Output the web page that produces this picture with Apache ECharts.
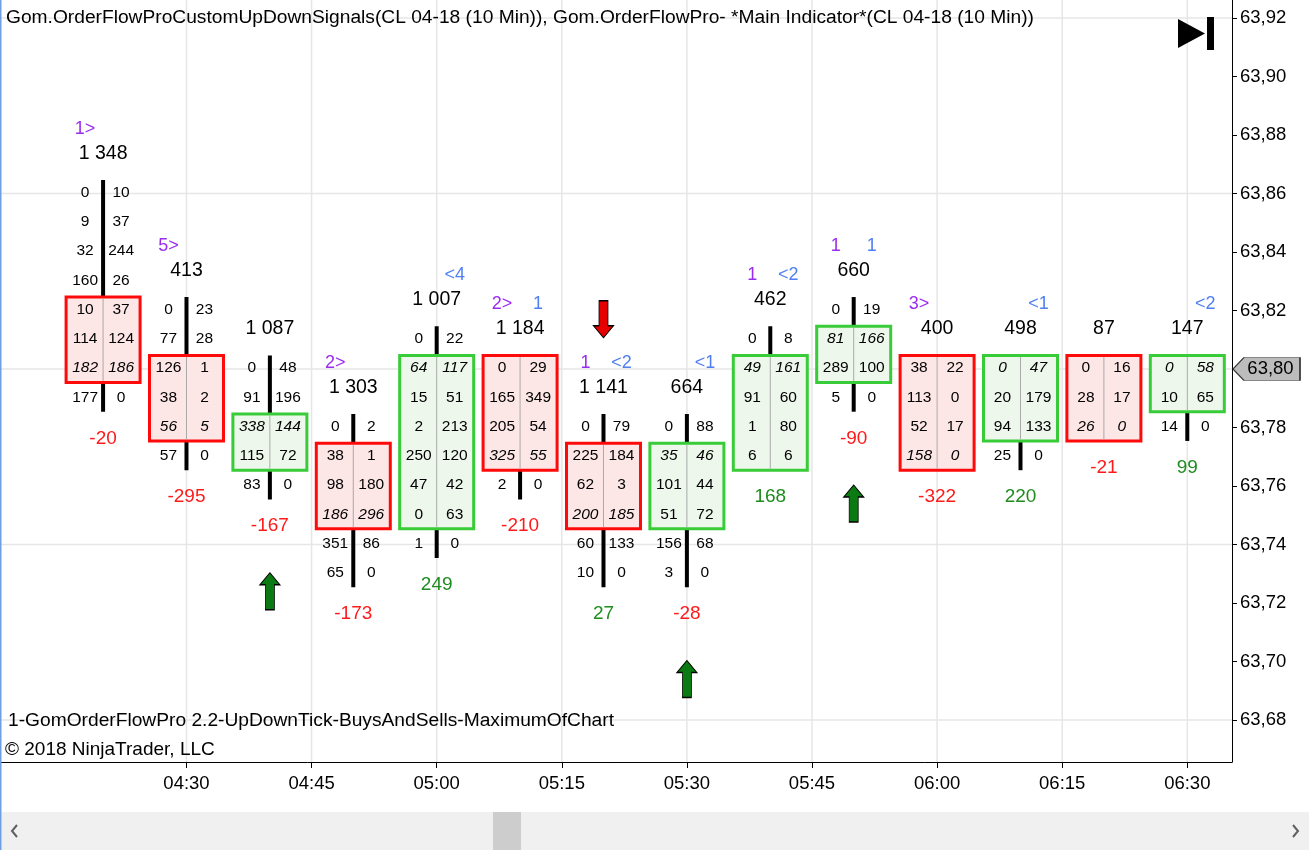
<!DOCTYPE html>
<html>
<head>
<meta charset="utf-8">
<title>GomOrderFlowPro - CL 04-18 (10 Min)</title>
<script src="https://cdn.jsdelivr.net/npm/echarts@6.0.0/dist/echarts.min.js"></script>
<style>
  html, body { margin: 0; padding: 0; background: #fff; }
  #chart { width: 1309px; height: 850px; }
</style>
</head>
<body>
<div id="chart"></div>
<script>
// 10 min bars, CL 04-18
const times = ['04:20', '04:30', '04:40', '04:50', '05:00', '05:10', '05:20', '05:30', '05:40', '05:50', '06:00', '06:10', '06:20', '06:30']
const highs = [63.86, 63.82, 63.80, 63.78, 63.81, 63.80, 63.78, 63.78, 63.81, 63.82, 63.80, 63.80, 63.80, 63.80]
const lows = [63.79, 63.77, 63.76, 63.73, 63.74, 63.76, 63.73, 63.73, 63.77, 63.79, 63.77, 63.77, 63.78, 63.78]
const opens = [63.82, 63.80, 63.77, 63.77, 63.75, 63.80, 63.77, 63.75, 63.77, 63.80, 63.80, 63.78, 63.80, 63.79]
const closes = [63.80, 63.78, 63.78, 63.75, 63.80, 63.77, 63.75, 63.77, 63.80, 63.81, 63.77, 63.80, 63.78, 63.80]

// bid x ask per price level, high -> low
const bids = [
  [0, 9, 32, 160, 10, 114, 182, 177],
  [0, 77, 126, 38, 56, 57],
  [0, 91, 338, 115, 83],
  [0, 38, 98, 186, 351, 65],
  [0, 64, 15, 2, 250, 47, 0, 1],
  [0, 165, 205, 325, 2],
  [0, 225, 62, 200, 60, 10],
  [0, 35, 101, 51, 156, 3],
  [0, 49, 91, 1, 6],
  [0, 81, 289, 5],
  [38, 113, 52, 158],
  [0, 20, 94, 25],
  [0, 28, 26],
  [0, 10, 14],
]
const asks = [
  [10, 37, 244, 26, 37, 124, 186, 0],
  [23, 28, 1, 2, 5, 0],
  [48, 196, 144, 72, 0],
  [2, 1, 180, 296, 86, 0],
  [22, 117, 51, 213, 120, 42, 63, 0],
  [29, 349, 54, 55, 0],
  [79, 184, 3, 185, 133, 0],
  [88, 46, 44, 72, 68, 0],
  [8, 161, 60, 80, 6],
  [19, 166, 100, 0],
  [22, 0, 17, 0],
  [47, 179, 133, 0],
  [16, 17, 0],
  [58, 65, 0],
]
const volumes = [1348, 413, 1087, 1303, 1007, 1184, 1141, 664, 462, 660, 400, 498, 87, 147]
const deltas = [-20, -295, -167, -173, 249, -210, 27, -28, 168, -90, -322, 220, -21, 99]
const sigLeft = ['1>', '5>', '', '2>', '', '2>', '1', '', '1', '1', '3>', '', '', '']
const sigRight = ['', '', '', '', '<4', '1', '<2', '<1', '<2', '1', '', '<1', '', '<2']
const upArrowBars = ['04:40', '05:30', '05:50']
const downArrowBars = ['05:20']

const priceTicks = [63.68, 63.70, 63.72, 63.74, 63.76, 63.78, 63.80, 63.82, 63.84, 63.86, 63.88, 63.90, 63.92]
const priceGrid = [63.68, 63.74, 63.80, 63.86, 63.92]
const timeTicks = ['04:30', '04:45', '05:00', '05:15', '05:30', '05:45', '06:00', '06:15', '06:30']
const lastPrice = 63.80

const FONT = '"Liberation Sans", Arial, sans-serif'
const TICK = 0.01
const HALF = 0.0046
const BOX_HALF = 37
const RED = '#ff0a0a', RED_FILL = '#fde6e6'
const GREEN = '#38cc38', GREEN_FILL = '#eef7ec'
const GRID_COLOR = '#e6e6e6'

const toMin = (s) => {
  const [h, m] = s.split(':').map(Number)
  return h * 60 + m
}
const fmtTime = (v) => {
  const h = Math.floor(v / 60), m = Math.round(v % 60)
  return String(h).padStart(2, '0') + ':' + String(m).padStart(2, '0')
}
const fmtVol = (v) => (v >= 1000 ? Math.floor(v / 1000) + ' ' + String(v % 1000).padStart(3, '0') : String(v))

const xMin = 247.64, xMax = 395.36
const yMin = 63.66564, yMax = 63.92615

const barData = times.map((t, i) => [toMin(t), highs[i], lows[i], opens[i], closes[i]])
const upArrows = upArrowBars.map((t) => {
  const i = times.indexOf(t)
  return [toMin(t), lows[i] - 0.036]
})
const downArrows = downArrowBars.map((t) => {
  const i = times.indexOf(t)
  return [toMin(t), highs[i] + 0.037]
})

function txt(x, y, s, color, size, italic) {
  return {
    type: 'text',
    style: {
      text: s, x: x, y: y, fill: color,
      fontSize: size, fontFamily: FONT, fontStyle: italic ? 'italic' : 'normal',
      align: 'center', verticalAlign: 'middle',
    },
  }
}

function renderFootprint(params, api) {
  const i = params.dataIndex
  const t = api.value(0)
  const high = api.value(1), low = api.value(2)
  const open = api.value(3), close = api.value(4)
  const up = close > open
  const bodyTop = Math.max(open, close), bodyBot = Math.min(open, close)
  const x = api.coord([t, high])[0]
  const yOf = (p) => api.coord([t, p])[1]
  const boxTop = yOf(bodyTop + HALF), boxBot = yOf(bodyBot - HALF)
  const children = []

  children.push({
    type: 'line',
    shape: { x1: x, y1: yOf(high + HALF), x2: x, y2: yOf(low - HALF) },
    style: { stroke: '#000', lineWidth: 4 },
  })
  children.push({
    type: 'rect',
    shape: { x: x - BOX_HALF, y: boxTop, width: BOX_HALF * 2, height: boxBot - boxTop },
    style: { fill: up ? GREEN_FILL : RED_FILL, stroke: up ? GREEN : RED, lineWidth: 3 },
  })
  children.push({
    type: 'line',
    shape: { x1: x, y1: boxTop + 1.5, x2: x, y2: boxBot - 1.5 },
    style: { stroke: '#a9a9a9', lineWidth: 1 },
  })

  bids[i].forEach((b, k) => {
    const p = +(high - k * TICK).toFixed(2)
    const y = yOf(p) - 1
    const it = Math.abs(p - close) < 1e-6
    children.push(txt(x - 18, y, String(b), '#000', 15.5, it))
    children.push(txt(x + 18, y, String(asks[i][k]), '#000', 15.5, it))
  })

  children.push(txt(x, yOf(high + 0.0137), fmtVol(volumes[i]), '#000', 19.5, false))
  if (sigLeft[i]) children.push(txt(x - 18, yOf(high + 0.0222), sigLeft[i], '#9a2cf0', 18, false))
  if (sigRight[i]) children.push(txt(x + 18, yOf(high + 0.0222), sigRight[i], '#4f7ff0', 18, false))
  const d = deltas[i]
  children.push(txt(x, yOf(low - 0.0137), String(d), d < 0 ? '#ff1a1a' : '#1e8c1e', 19, false))

  return { type: 'group', children: children }
}

function renderHLine(params, api) {
  const cs = params.coordSys
  const y = api.coord([xMin, api.value(1)])[1]
  return { type: 'line', shape: { x1: cs.x, y1: y, x2: cs.x + cs.width, y2: y }, style: { stroke: GRID_COLOR, lineWidth: 1.5 } }
}
function renderVLine(params, api) {
  const cs = params.coordSys
  const x = api.coord([api.value(0), yMin])[0]
  return { type: 'line', shape: { x1: x, y1: cs.y, x2: x, y2: cs.y + cs.height }, style: { stroke: GRID_COLOR, lineWidth: 1.5 } }
}

const upPath = 'path://M10,0 L20,12 L14.5,12 L14.5,37 L5.5,37 L5.5,12 L0,12 Z'
const downPath = 'path://M5.5,0 L14.5,0 L14.5,25 L20,25 L10,37 L0,25 L5.5,25 Z'

const myChart = echarts.init(document.getElementById('chart'))
const option = {
  animation: false,
  backgroundColor: '#fff',
  textStyle: { fontFamily: FONT },
  grid: { left: 0, right: 77, top: 0, bottom: 88, containLabel: false },
  xAxis: {
    type: 'value',
    min: xMin,
    max: xMax,
    axisLine: { onZero: false, lineStyle: { color: '#000', width: 1 } },
    axisTick: { show: true, length: 6, customValues: timeTicks.map(toMin), lineStyle: { color: '#000' } },
    axisLabel: {
      customValues: timeTicks.map(toMin),
      formatter: (v) => fmtTime(v),
      color: '#000', fontSize: 18.5, margin: 12,
    },
    splitLine: { show: false },
  },
  yAxis: {
    type: 'value',
    position: 'right',
    min: yMin,
    max: yMax,
    axisLine: { show: true, lineStyle: { color: '#000', width: 1 } },
    axisTick: { show: true, length: 5, customValues: priceTicks, lineStyle: { color: '#000' } },
    axisLabel: {
      customValues: priceTicks,
      formatter: (v) => v.toFixed(2).replace('.', ','),
      color: '#000', fontSize: 18.5, margin: 8,
    },
    splitLine: { show: false },
  },
  series: [
    {
      type: 'custom',
      z: 1,
      silent: true,
      renderItem: renderHLine,
      data: priceGrid.map((v) => [xMin, v]),
    },
    {
      type: 'custom',
      z: 1,
      silent: true,
      renderItem: renderVLine,
      data: timeTicks.map((t) => [toMin(t), yMin]),
    },
    {
      type: 'custom',
      z: 3,
      silent: true,
      renderItem: renderFootprint,
      encode: { x: 0, y: [1, 2] },
      data: barData,
      markPoint: {
        silent: true,
        symbol: 'path://M0,11.5 L11,0 L67,0 L67,23 L11,23 Z',
        symbolSize: [67, 23],
        symbolOffset: [34.5, 0],
        itemStyle: { color: '#bcbcbc', borderColor: '#333', borderWidth: 1 },
        label: {
          show: true, position: 'inside', offset: [4, 0],
          formatter: () => lastPrice.toFixed(2).replace('.', ','),
          color: '#000', fontSize: 18.5,
        },
        data: [{ coord: [xMax, lastPrice] }],
      },
    },
    {
      type: 'scatter',
      z: 4,
      silent: true,
      symbol: upPath,
      symbolSize: [20, 37],
      itemStyle: { color: '#0b7a12', borderColor: '#000', borderWidth: 1, opacity: 1 },
      data: upArrows,
    },
    {
      type: 'scatter',
      z: 4,
      silent: true,
      symbol: downPath,
      symbolSize: [20, 37],
      itemStyle: { color: '#e60000', borderColor: '#000', borderWidth: 1, opacity: 1 },
      data: downArrows,
    },
  ],
  graphic: [
    { type: 'rect', left: 0, top: 0, z: 100, shape: { width: 1.5, height: 850 }, style: { fill: '#6f9fe0' } },
    {
      type: 'text', left: 6, top: 8, z: 100,
      style: {
        text: 'Gom.OrderFlowProCustomUpDownSignals(CL 04-18 (10 Min)), Gom.OrderFlowPro- *Main Indicator*(CL 04-18 (10 Min))',
        fill: '#000', fontSize: 19.2, fontFamily: FONT,
      },
    },
    {
      type: 'text', left: 8, top: 711, z: 100,
      style: { text: '1-GomOrderFlowPro 2.2-UpDownTick-BuysAndSells-MaximumOfChart', fill: '#000', fontSize: 19.2, fontFamily: FONT },
    },
    {
      type: 'text', left: 5, top: 740, z: 100,
      style: { text: '© 2018 NinjaTrader, LLC', fill: '#000', fontSize: 19, fontFamily: FONT },
    },
    // go-to-end button
    { type: 'polygon', z: 100, shape: { points: [[1178, 19], [1205, 33.5], [1178, 48]] }, style: { fill: '#000' } },
    { type: 'rect', z: 100, shape: { x: 1207, y: 17, width: 7, height: 33 }, style: { fill: '#000' } },
    // scrollbar
    { type: 'rect', shape: { x: 1.5, y: 812, width: 1308, height: 38 }, style: { fill: '#f0f0f0' } },
    { type: 'rect', shape: { x: 493, y: 812, width: 28, height: 38 }, style: { fill: '#cdcdcd' } },
    { type: 'polyline', shape: { points: [[17, 825], [12, 831], [17, 837]] }, style: { stroke: '#606060', lineWidth: 2, fill: null } },
    { type: 'polyline', shape: { points: [[1293, 825], [1298, 831], [1293, 837]] }, style: { stroke: '#606060', lineWidth: 2, fill: null } },
  ],
}

option && myChart.setOption(option)
</script>
</body>
</html>
